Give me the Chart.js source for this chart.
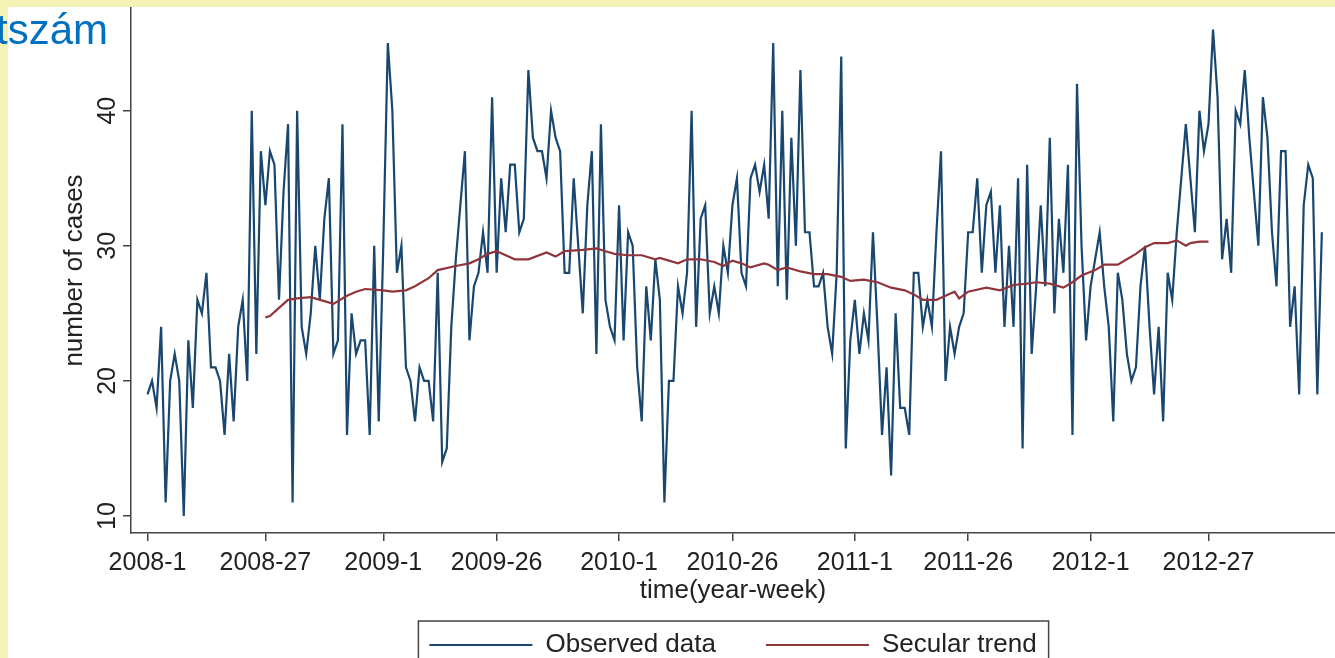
<!DOCTYPE html>
<html>
<head>
<meta charset="utf-8">
<script src="https://cdn.jsdelivr.net/npm/chart.js"></script>
<style>
  html, body { margin: 0; padding: 0; }
  body { width: 1335px; height: 658px; background: #f4f2b4; position: relative; overflow: hidden; font-family: "Liberation Sans", Arial, sans-serif; }
  #panel { position: absolute; left: 8px; top: 7px; right: 0; bottom: 0; background: #fff; }
  #myChart { position: absolute; left: 0; top: 0; }
  #title { position: absolute; left: -4px; top: 9px; font-size: 42px; line-height: 42px; color: #0070c0; }
</style>
</head>
<body>
<div id="panel"></div>
<canvas id="myChart" width="1335" height="658"></canvas>
<div id="title">tszám</div>
<script>
const years = [2008, 2009, 2010, 2011, 2012];
const xTickLabels = ["2008-1", "2008-27", "2009-1", "2009-26", "2010-1", "2010-26", "2011-1", "2011-26", "2012-1", "2012-27"];
const yTicks = [10, 20, 30, 40];

// weekly counts, 2008-1 ... 2012-52
const observed = [
  19, 20, 18, 24, 11, 20, 22, 20, 10, 23, 18, 26, 25, 28, 21, 21, 20, 16, 22, 17, 24, 26, 20, 40, 22, 37,
  33, 37, 36, 26, 34, 39, 11, 40, 24, 22, 25, 30, 26, 32, 35, 22, 23, 39, 16, 25, 22, 23, 23, 16, 30, 17,
  30, 45, 40, 28, 30, 21, 20, 17, 21, 20, 20, 17, 28, 14, 15, 24, 29, 33, 37, 23, 27, 28, 31, 28, 41, 28,
  35, 31, 36, 36, 31, 32, 43, 38, 37, 37, 35, 40, 38, 37, 28, 28, 35, 30, 25, 33, 37, 22, 39, 26, 24, 23,
  33, 23, 31, 30, 21, 17, 27, 23, 29, 26, 11, 20, 20, 27, 25, 28, 40, 24, 32, 33, 25, 27, 25, 30, 28, 33,
  35, 28, 27, 35, 36, 34, 36, 32, 45, 27, 40, 26, 38, 30, 43, 31, 31, 27, 27, 28, 24, 22, 28, 44, 15, 23,
  26, 22, 25, 23, 31, 24, 16, 21, 13, 25, 18, 18, 16, 28, 28, 24, 26, 24, 31, 37, 20, 24, 22, 24, 25, 31,
  31, 35, 28, 33, 34, 28, 33, 24, 30, 24, 35, 15, 36, 22, 27, 33, 27, 38, 25, 32, 28, 36, 16, 42, 30, 23,
  27, 29, 31, 27, 24, 17, 28, 26, 22, 20, 21, 27, 30, 24, 19, 24, 17, 28, 26, 31, 35, 39, 35, 31, 40, 37,
  39, 46, 41, 29, 32, 28, 40, 39, 43, 38, 34, 30, 41, 38, 31, 27, 37, 37, 24, 27, 19, 33, 36, 35, 19, 31
];

// secular trend, read at these week numbers (0 = 2008-1)
const trendWeek = [
  26, 27, 29, 31, 33, 36, 39, 41, 44, 46, 48, 52, 54, 57, 59, 62, 64, 68, 71, 73,
  75, 77, 79, 81, 84, 88, 90, 92, 96, 99, 101, 103, 106, 109, 112, 113, 117, 119, 122, 125,
  127, 129, 131, 133, 136, 137, 139, 141, 144, 147, 150, 153, 155, 158, 161, 164, 167, 169, 171, 174,
  176, 178, 179, 181, 185, 188, 191, 194, 196, 199, 202, 204, 206, 209, 211, 214, 216, 218, 220, 222,
  225, 227, 229, 230, 232, 234
];
const trendValue = [
  24.7, 24.8, 25.4, 26.0, 26.1, 26.2, 25.9, 25.7, 26.3, 26.6, 26.8, 26.7, 26.6, 26.7, 27.0, 27.6, 28.2, 28.5, 28.7, 29.0,
  29.4, 29.6, 29.3, 29.0, 29.0, 29.5, 29.2, 29.6, 29.7, 29.8, 29.6, 29.4, 29.3, 29.3, 29.0, 29.1, 28.7, 29.0, 29.0, 28.8,
  28.5, 28.9, 28.7, 28.4, 28.7, 28.6, 28.2, 28.4, 28.1, 27.9, 27.9, 27.7, 27.4, 27.5, 27.3, 26.9, 26.7, 26.4, 26.0, 26.0,
  26.3, 26.6, 26.1, 26.6, 26.9, 26.7, 27.1, 27.2, 27.3, 27.2, 26.9, 27.3, 27.8, 28.2, 28.6, 28.6, 29.0, 29.4, 29.9, 30.2,
  30.2, 30.4, 30.0, 30.2, 30.3, 30.3
];

let weekLabels = [];
for (let y of years) {
  for (let w = 1; w <= 52; w++) weekLabels.push(y + "-" + w);
}
const xTickPos = xTickLabels.map((l) => weekLabels.indexOf(l));

const axisColor = "#444";
const textColor = "#222";

// frame round the legend, as in the original
const legendBox = {
  id: "legendBox",
  afterDraw(chart) {
    const boxes = chart.legend.legendHitBoxes;
    if (!boxes || !boxes.length) return;
    const first = boxes[0];
    const last = boxes[boxes.length - 1];
    const ctx = chart.ctx;
    ctx.save();
    ctx.strokeStyle = axisColor;
    ctx.lineWidth = 1.5;
    ctx.strokeRect(first.left - 11, first.top - 11, last.left + last.width - first.left + 23, chart.height);
    ctx.restore();
  },
};

function renderChart() {
  Chart.defaults.font.family = "'Liberation Sans', Arial, sans-serif";
  const ctx = document.getElementById("myChart");

  new Chart(ctx, {
    type: "line",
    data: {
      datasets: [
        {
          label: "Observed data",
          data: observed.map((v, i) => ({ x: i, y: v })),
          borderColor: "#1a476f",
          borderWidth: 2.2,
          pointRadius: 0,
          tension: 0,
          order: 1,
        },
        {
          label: "Secular trend",
          data: trendWeek.map((w, i) => ({ x: w, y: trendValue[i] })),
          borderColor: "#90353b",
          borderWidth: 2.2,
          pointRadius: 0,
          tension: 0,
          order: 0,
        },
      ],
    },
    options: {
      responsive: false,
      animation: false,
      devicePixelRatio: 1,
      layout: { padding: { top: 8, left: 0, right: 0, bottom: -10 } },
      plugins: {
        tooltip: { enabled: false },
        legend: {
          position: "bottom",
          fullSize: false,
          labels: {
            boxWidth: 103,
            boxHeight: 2,
            padding: 50,
            color: textColor,
            font: { size: 26 },
            generateLabels: (chart) =>
              chart.data.datasets.map((ds, i) => ({
                text: ds.label,
                fillStyle: ds.borderColor,
                strokeStyle: ds.borderColor,
                lineWidth: 0,
                fontColor: textColor,
                hidden: false,
                datasetIndex: i,
              })),
          },
        },
      },
      scales: {
        x: {
          type: "linear",
          min: -3.64,
          max: 261.9,
          afterBuildTicks: (s) => {
            s.ticks = xTickPos.map((v) => ({ value: v }));
          },
          afterFit: (s) => {
            s.height = 49;
            s.paddingLeft = 0;
            s.paddingRight = 0;
          },
          ticks: {
            autoSkip: false,
            maxRotation: 0,
            padding: 7,
            color: textColor,
            font: { size: 25 },
            callback: (v) => xTickLabels[xTickPos.indexOf(v)],
          },
          grid: { drawOnChartArea: false, tickLength: 8, color: axisColor, lineWidth: 1.5 },
          border: { color: axisColor, width: 1.5 },
          title: {
            display: true,
            text: "time(year-week)",
            color: textColor,
            font: { size: 26 },
            padding: { top: 0, bottom: -24.6 },
          },
        },
        y: {
          min: 8.74,
          max: 47.6,
          afterBuildTicks: (s) => {
            s.ticks = yTicks.map((v) => ({ value: v }));
          },
          afterFit: (s) => {
            s.width = 131;
            s.paddingTop = 0;
            s.paddingBottom = 0;
          },
          ticks: {
            minRotation: 90,
            maxRotation: 90,
            crossAlign: "center",
            padding: 1,
            color: textColor,
            font: { size: 25 },
          },
          grid: { drawOnChartArea: false, tickLength: 8, color: axisColor, lineWidth: 1.5 },
          border: { color: axisColor, width: 1.5 },
          title: {
            display: true,
            text: "number of cases",
            color: textColor,
            font: { size: 26 },
            padding: { top: 59, bottom: 0 },
          },
        },
      },
    },
    plugins: [legendBox],
  });
}

renderChart();
</script>
</body>
</html>
